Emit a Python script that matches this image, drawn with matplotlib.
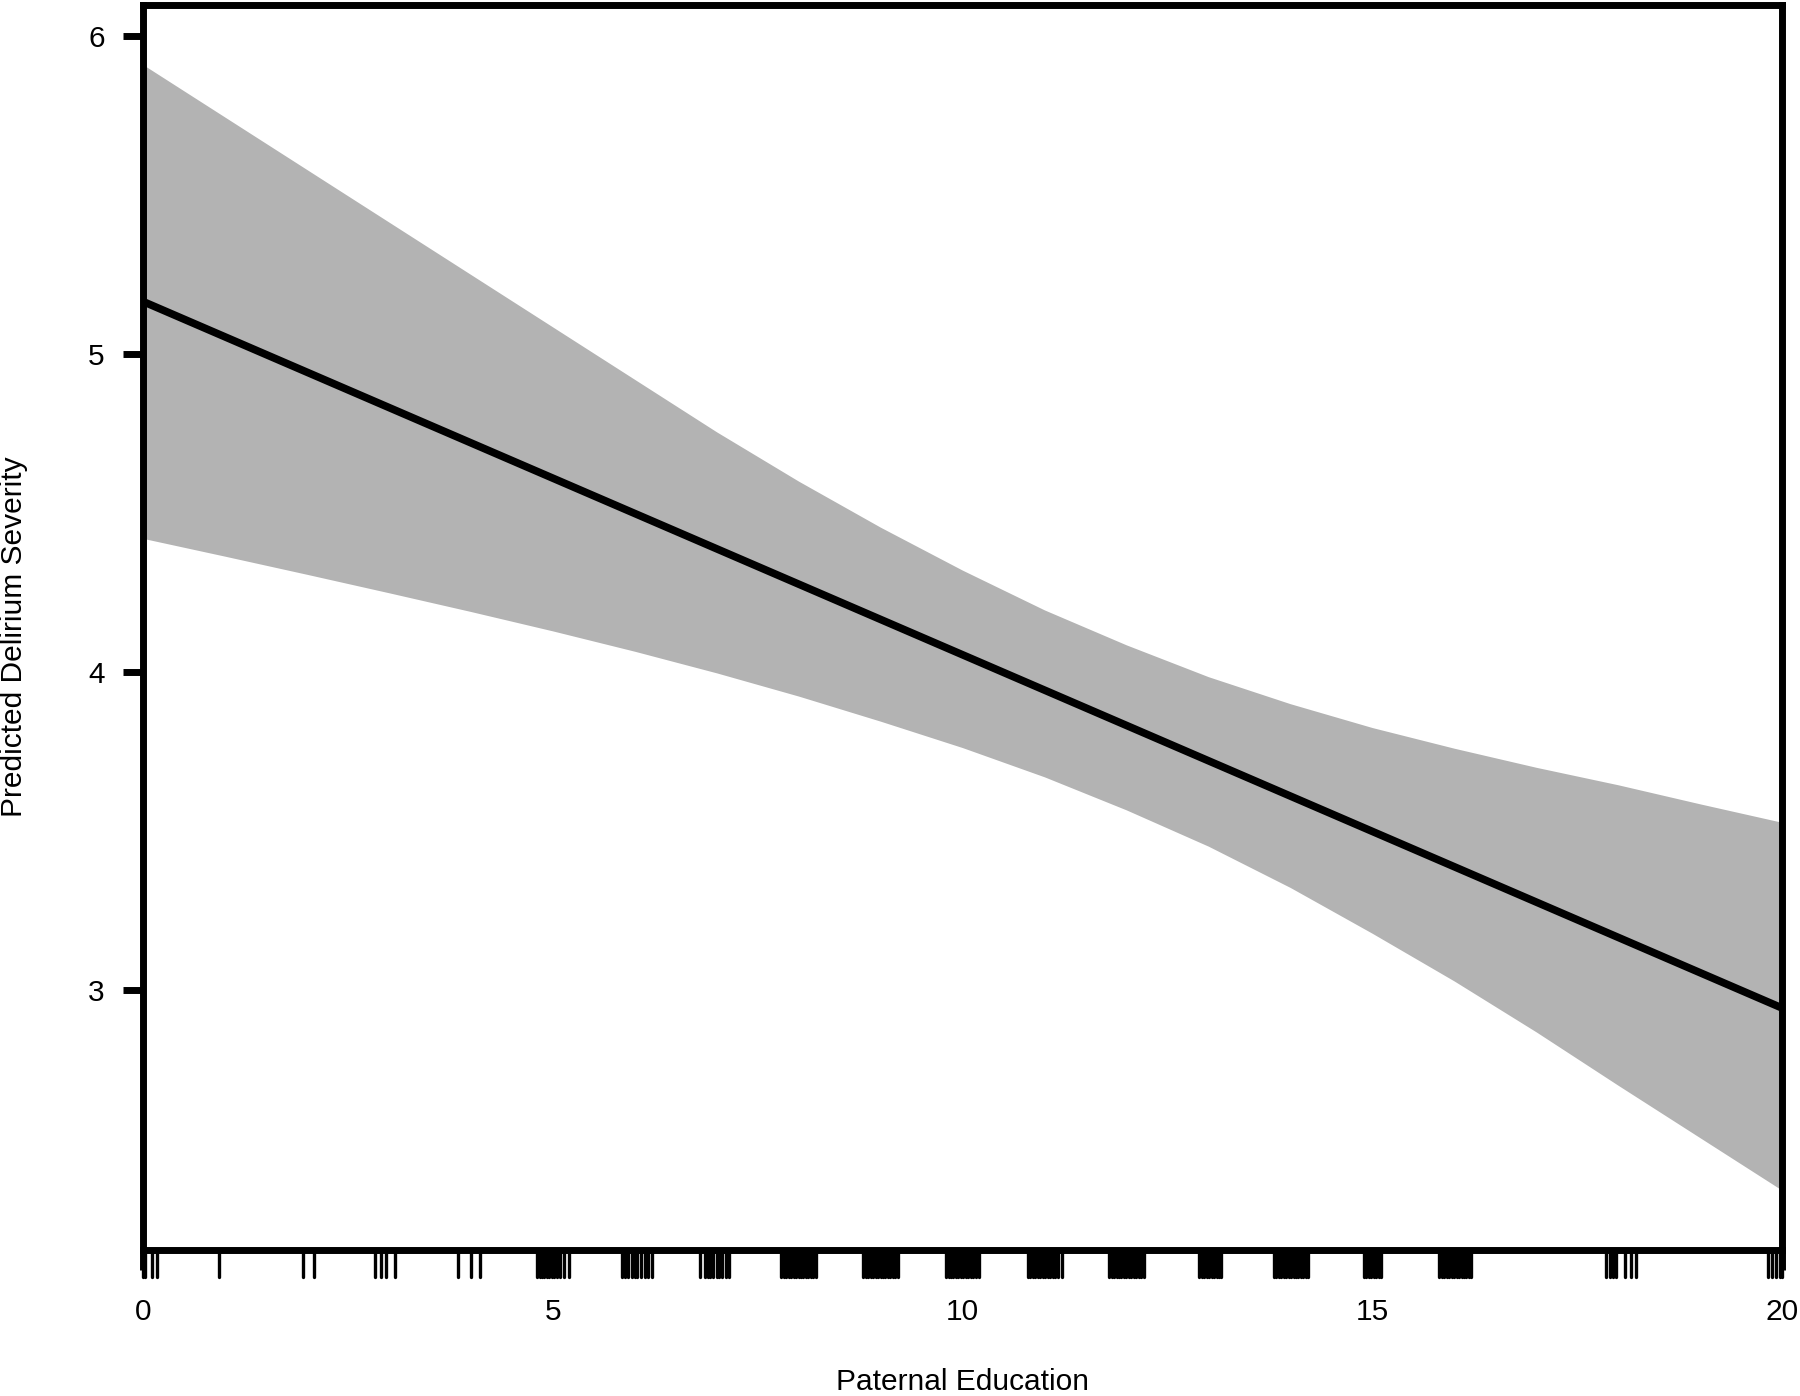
import matplotlib
matplotlib.use("Agg")
import matplotlib.pyplot as plt
import matplotlib.transforms as mtransforms

plt.rcParams["font.family"] = ["Liberation Sans", "DejaVu Sans"]

# fitted line and confidence band
x_grid = [0, 1, 2, 3, 4, 5, 6, 7, 8, 9, 10, 11, 12, 13, 14, 15, 16, 17, 18, 19, 20]
upper = [5.91, 5.745, 5.58, 5.415, 5.25, 5.085, 4.92, 4.755, 4.60, 4.455, 4.32,
         4.195, 4.085, 3.985, 3.90, 3.825, 3.76, 3.70, 3.645, 3.585, 3.527]
lower = [4.42, 4.364, 4.307, 4.249, 4.19, 4.129, 4.065, 3.997, 3.924, 3.845, 3.762,
         3.670, 3.566, 3.452, 3.322, 3.178, 3.028, 2.868, 2.70, 2.535, 2.37]
fit_x = [0, 20]
fit_y = [5.165, 2.943]

# rug (jittered paternal education values)
rug = [
    0.0, 0.02, 0.11, 0.17,
    0.93,
    1.95, 2.09,
    2.83, 2.90, 2.97, 3.07,
    3.85, 4.00, 4.11,
    4.81, 4.84, 4.87, 4.90, 4.93, 4.96, 4.99, 5.02, 5.05, 5.09, 5.14, 5.20,
    5.84, 5.88, 5.92, 5.97, 6.00, 6.03, 6.08, 6.13, 6.16, 6.21,
    6.80, 6.86, 6.89, 6.92, 6.96, 7.00, 7.03, 7.07, 7.11, 7.15,
    7.79, 7.82, 7.85, 7.88, 7.91, 7.94, 7.97, 8.00, 8.03, 8.06, 8.09, 8.12, 8.15, 8.18, 8.21,
    8.79, 8.82, 8.85, 8.88, 8.91, 8.94, 8.97, 9.00, 9.03, 9.06, 9.09, 9.12, 9.15, 9.18, 9.21,
    9.80, 9.83, 9.86, 9.89, 9.92, 9.95, 9.98, 10.01, 10.04, 10.07, 10.10, 10.13, 10.16, 10.20,
    10.80, 10.83, 10.86, 10.89, 10.92, 10.95, 10.98, 11.01, 11.04, 11.07, 11.10, 11.13, 11.16, 11.21,
    11.79, 11.82, 11.85, 11.88, 11.91, 11.94, 11.97, 12.00, 12.03, 12.06, 12.09, 12.12, 12.15, 12.18, 12.22,
    12.89, 12.92, 12.95, 12.98, 13.01, 13.04, 13.07, 13.10, 13.13, 13.16,
    13.80, 13.83, 13.86, 13.89, 13.92, 13.95, 13.98, 14.01, 14.04, 14.07, 14.10, 14.13, 14.16, 14.19, 14.22,
    14.90, 14.93, 14.96, 14.99, 15.02, 15.05, 15.08, 15.11,
    15.82, 15.85, 15.88, 15.91, 15.94, 15.97, 16.00, 16.03, 16.06, 16.09, 16.12, 16.15, 16.18, 16.21,
    17.85, 17.90, 17.94, 17.98, 18.09, 18.16, 18.22,
    19.83, 19.88, 19.93, 19.97, 20.0,
]

x_ticks = [0, 5, 10, 15, 20]
y_ticks = [3, 4, 5, 6]

fig = plt.figure(figsize=(18, 13.96), dpi=100)
ax = fig.add_axes([0.0794, 0.1046, 0.9106, 0.8915])

ax.fill_between(x_grid, lower, upper, color="#b3b3b3", linewidth=0)
ax.plot(fit_x, fit_y, color="black", linewidth=5.5, solid_capstyle="butt")

# rug below the axis, outside the plotting box
trans = mtransforms.blended_transform_factory(ax.transData, ax.transAxes)
ax.vlines(rug, -0.0217, 0, transform=trans, colors="black", linewidth=2.4,
          clip_on=False, capstyle="round")

ax.set_xlim(0, 20)
ax.set_ylim(2.182, 6.096)
ax.set_xticks(x_ticks)
ax.set_yticks(y_ticks)

for s in ax.spines.values():
    s.set_linewidth(5)
    s.set_capstyle("projecting")

ax.tick_params(axis="both", direction="out", length=14.4, width=5,
               labelsize=21.5, color="black")
ax.tick_params(axis="x", pad=20)
ax.tick_params(axis="y", pad=13)

ax.set_xlabel("Paternal Education", fontsize=21.5)
ax.xaxis.set_label_coords(0.5, -0.0945)
ax.set_ylabel("Predicted Delirium Severity", fontsize=21.5)
ax.yaxis.set_label_coords(-0.070, 0.4924)

fig.savefig("out.png", dpi=100)
